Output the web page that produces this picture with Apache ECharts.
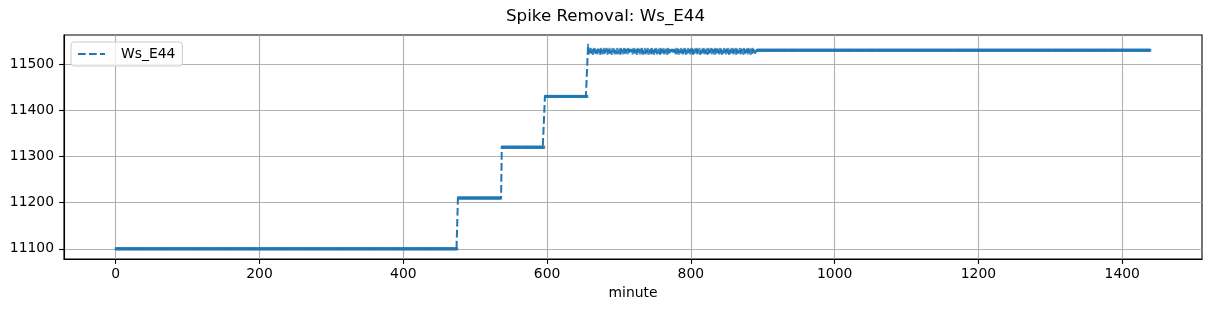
<!DOCTYPE html>
<html><head><meta charset="utf-8">
<script src="https://cdn.jsdelivr.net/npm/echarts@6/dist/echarts.min.js"></script>
<style>html,body{margin:0;padding:0;background:#fff}#c{width:1211px;height:311px}</style>
</head><body><div id="c"></div><script>
// ---- data ----
const titleText = 'Spike Removal: Ws_E44';
const seriesName = 'Ws_E44';
const xName = 'minute';
const xTicks = [0, 200, 400, 600, 800, 1000, 1200, 1400];
const yTicks = [11100, 11200, 11300, 11400, 11500];

// flat plateaus (minute ranges, inclusive)
const plateauStart = [0, 476, 537, 597];
const plateauEnd   = [475, 536, 596, 656];
const plateauValue = [11100, 11210, 11320, 11430];

// spike at the last step
const spikeMinute = 657;
const spikeValue = 11541;

// noisy stretch, one value per minute from minute 658 to 891
const noisyStart = 658;
const noisyValues = [
  11524,11531,11527,11532,11525,11529,11523,11532,11526,11531,
  11525,11528,11524,11531,11527,11530,11523,11532,11526,11529,
  11524,11532,11525,11531,11528,11532,11523,11530,11526,11532,
  11525,11529,11523,11532,11527,11531,11524,11528,11525,11532,
  11524,11530,11526,11531,11523,11532,11527,11529,11524,11532,
  11525,11531,11526,11530,11524,11532,11527,11530,
  11529,11530,11528,
  11524,11532,11526,11531,11525,11529,11523,11532,11527,11530,
  11524,11531,11526,11532,11523,11528,11525,11532,11524,11530,
  11527,11532,11523,11529,11526,11531,11524,11532,11525,11528,
  11523,11531,11527,11532,11524,11529,11526,11531,11523,11532,
  11525,11530,11527,11532,11524,11529,11526,11531,11523,11532,
  11525,11530,11527,
  11530,11529,11530,11528,11530,11529,11530,
  11524,11532,11526,11531,11523,11529,11527,11532,11525,11530,
  11524,11531,11526,11532,11523,11528,11525,11532,11527,11530,
  11524,11531,11526,11532,11523,11529,11525,11531,11527,11532,
  11524,11530,11526,11532,11523,11528,11525,11531,11527,11532,
  11524,11529,11526,11531,11523,11532,11525,11530,11527,11532,
  11524,11531,11526,11529,11523,11532,11525,11531,11527,11530,
  11524,11532,11526,11531,11523,11528,11525,11532,11527,11530,
  11524,11531,11526,11532,11523,11529,11525,11531,11527,11532,
  11524,11530,11526,11532,11523,11531,11525,11528,11527,11532,
  11524,11531,11526,11530,11523,11532,11525,11529,11527,11531,
  11524,11532,11526,11530,11523,11531,11525,11532,11527,11529,
  11525,11527,11528
];

// flat tail
const tailStart = 892;
const tailEnd = 1439;
const tailValue = 11530;

// ---- build the per-minute table ----
const points = [];
for (let i = 0; i < plateauStart.length; i++) {
  for (let m = plateauStart[i]; m <= plateauEnd[i]; m++) points.push([m, plateauValue[i]]);
}
points.push([spikeMinute, spikeValue]);
noisyValues.forEach((v, i) => points.push([noisyStart + i, v]));
for (let m = tailStart; m <= tailEnd; m++) points.push([m, tailValue]);

const xs = points.map(p => p[0]), ys = points.map(p => p[1]);
const xLo = Math.min(...xs), xHi = Math.max(...xs);
const yLo = Math.min(...ys), yHi = Math.max(...ys);
const xPad = 0.05 * (xHi - xLo), yPad = 0.05 * (yHi - yLo);

const FONT = 'DejaVu Sans';
const BLUE = '#1f77b4';
const plain = v => String(Math.round(v));
const chart = echarts.init(document.getElementById('c'), null, {renderer: 'canvas'});
chart.setOption({
  animation: false,
  backgroundColor: '#ffffff',
  title: {
    text: titleText, left: 'center', top: 3,
    textStyle: {fontFamily: FONT, fontSize: 16.7, fontWeight: 'normal', color: '#000'}
  },
  legend: {
    data: [seriesName], left: 71, top: 42, orient: 'vertical',
    padding: [5, 7, 5, 6], itemWidth: 27, itemHeight: 14,
    backgroundColor: 'rgba(255,255,255,0.8)', borderColor: '#cccccc', borderWidth: 1, borderRadius: 3,
    selectedMode: false,
    itemStyle: {opacity: 0},
    textStyle: {fontFamily: FONT, fontSize: 13.9, color: '#000', padding: [0, 0, 0, 11]}
  },
  grid: {left: 64, right: 9, top: 35, bottom: 52, show: true, borderColor: '#000', borderWidth: 1.1, backgroundColor: 'transparent'},
  xAxis: {
    type: 'value', min: xLo - xPad, max: xHi + xPad,
    name: xName, nameLocation: 'middle', nameGap: 26,
    nameTextStyle: {fontFamily: FONT, fontSize: 13.9, color: '#000'},
    axisLine: {show: true, onZero: false, lineStyle: {color: '#000', width: 1.1}},
    axisTick: {show: true, length: 4.9, lineStyle: {color: '#000', width: 1.1}, customValues: xTicks},
    axisLabel: {fontFamily: FONT, fontSize: 13.9, color: '#000', margin: 8, customValues: xTicks, formatter: plain},
    splitLine: {show: true, lineStyle: {color: '#b0b0b0', width: 1.1}}
  },
  yAxis: {
    type: 'value', min: yLo - yPad, max: yHi + yPad,
    axisLine: {show: true, onZero: false, lineStyle: {color: '#000', width: 1.1}},
    axisTick: {show: true, length: 4.9, lineStyle: {color: '#000', width: 1.1}, customValues: yTicks},
    axisLabel: {fontFamily: FONT, fontSize: 13.9, color: '#000', margin: 10, customValues: yTicks, formatter: plain},
    splitLine: {show: true, lineStyle: {color: '#b0b0b0', width: 1.1}}
  },
  series: [
    {
      name: seriesName, type: 'line', data: points, symbol: 'none', showSymbol: false,
      lineStyle: {color: BLUE, width: 2, type: [7.7, 3.3]}, itemStyle: {color: BLUE},
      z: 3
    },
    {
      name: seriesName + ' points', type: 'scatter', data: points, symbol: 'rect', symbolSize: [2, 3],
      itemStyle: {color: BLUE}, z: 4, silent: true
    }
  ]
});
</script></body></html>
